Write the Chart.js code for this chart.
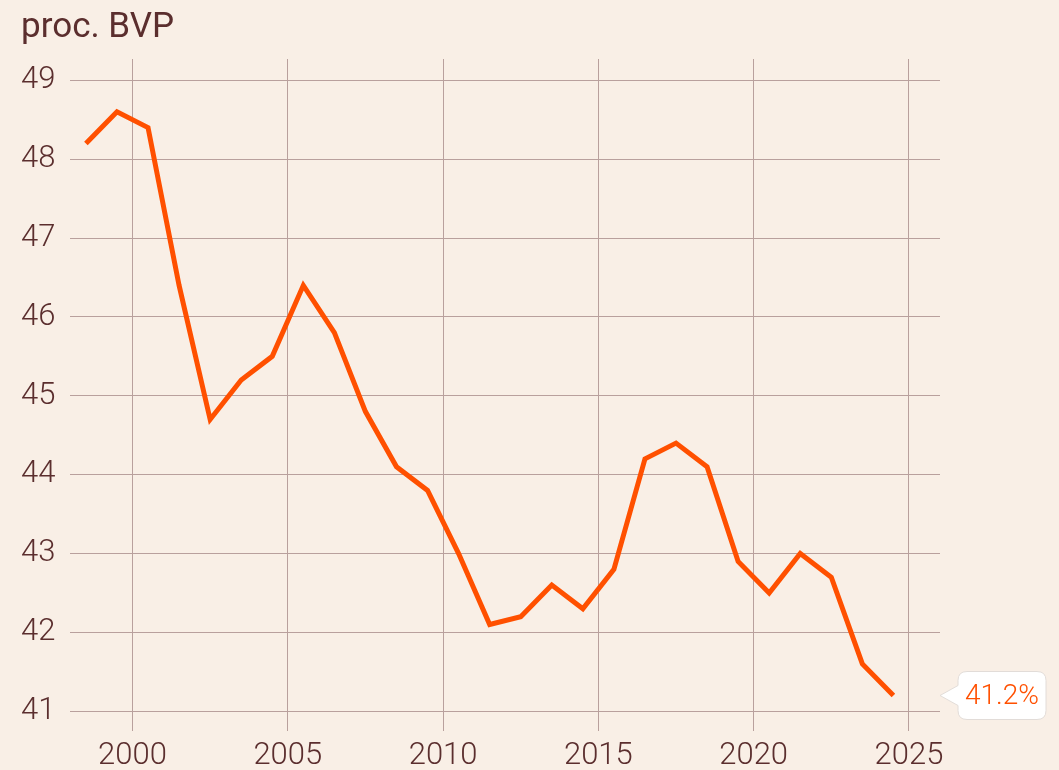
<!DOCTYPE html>
<html>
<head>
<meta charset="utf-8">
<script src="https://cdn.jsdelivr.net/npm/chart.js@4"></script>
<style>
  html, body { margin: 0; padding: 0; background: #f9efe6; }
  #wrap { width: 1059px; height: 770px; }
</style>
</head>
<body>
<div id="wrap"><canvas id="chart"></canvas></div>
<script>
// mid-year points
let years = [1998.5, 1999.5, 2000.5, 2001.5, 2002.5, 2003.5, 2004.5, 2005.5, 2006.5,
    2007.5, 2008.5, 2009.5, 2010.5, 2011.5, 2012.5, 2013.5, 2014.5, 2015.5, 2016.5,
    2017.5, 2018.5, 2019.5, 2020.5, 2021.5, 2022.5, 2023.5, 2024.5];
let values = [48.2, 48.6, 48.4, 46.4, 44.7, 45.2, 45.5, 46.4, 45.8,
    44.8, 44.1, 43.8, 43.0, 42.1, 42.2, 42.6, 42.3, 42.8, 44.2,
    44.4, 44.1, 42.9, 42.5, 43.0, 42.7, 41.6, 41.2];
let xTicks = [2000, 2005, 2010, 2015, 2020, 2025];
let yTicks = [41, 42, 43, 44, 45, 46, 47, 48, 49];
let unitLabel = "proc. BVP";

const textColor = "#5b2e2e";
const gridColor = "#b9a09d";
const lineColor = "#ff5000";

// unit label top left + last value callout on the right
const extras = {
    id: "extras",
    afterDraw(chart) {
        let ctx = chart.ctx;
        ctx.save();
        ctx.fillStyle = textColor;
        ctx.font = "400 35px Roboto";
        ctx.textAlign = "left";
        ctx.textBaseline = "alphabetic";
        ctx.fillText(unitLabel, 21, 37);

        let meta = chart.getDatasetMeta(0);
        let pt = meta.data[meta.data.length - 1];
        let y = pt.y;
        let tipX = chart.chartArea.right;
        let bx = tipX + 18, bw = 88, bh = 48, r = 9;
        let by = y - bh / 2;
        ctx.beginPath();
        ctx.moveTo(bx + r, by);
        ctx.lineTo(bx + bw - r, by);
        ctx.quadraticCurveTo(bx + bw, by, bx + bw, by + r);
        ctx.lineTo(bx + bw, by + bh - r);
        ctx.quadraticCurveTo(bx + bw, by + bh, bx + bw - r, by + bh);
        ctx.lineTo(bx + r, by + bh);
        ctx.quadraticCurveTo(bx, by + bh, bx, by + bh - r);
        ctx.lineTo(bx, y + 10);
        ctx.lineTo(tipX, y);
        ctx.lineTo(bx, y - 10);
        ctx.lineTo(bx, by + r);
        ctx.quadraticCurveTo(bx, by, bx + r, by);
        ctx.closePath();
        ctx.fillStyle = "#ffffff";
        ctx.fill();
        ctx.strokeStyle = "#e2dcd8";
        ctx.lineWidth = 1;
        ctx.stroke();
        ctx.fillStyle = lineColor;
        ctx.font = "300 28px Roboto";
        ctx.textAlign = "center";
        ctx.textBaseline = "middle";
        ctx.fillText(values[values.length - 1].toFixed(1) + "%", bx + bw / 2, y + 1);
        ctx.restore();
    }
};

let points = years.map((x, i) => ({ x: x, y: values[i] }));

new Chart(document.getElementById("chart"), {
    type: "line",
    data: {
        datasets: [{
            data: points,
            borderColor: lineColor,
            borderWidth: 5,
            pointRadius: 0,
            tension: 0,
            borderJoinStyle: "miter"
        }]
    },
    options: {
        responsive: true,
        maintainAspectRatio: false,
        animation: false,
        layout: { padding: { left: 6, right: 119, top: 59, bottom: 0 } },
        plugins: {
            legend: { display: false },
            tooltip: { enabled: false },
            title: { display: false }
        },
        scales: {
            x: {
                type: "linear",
                min: 1998,
                max: 2026,
                afterBuildTicks: (axis) => { axis.ticks = xTicks.map(v => ({ value: v })); },
                afterFit: (axis) => { axis.height = 39; },
                grid: { color: gridColor, lineWidth: 1, drawTicks: false },
                border: { display: false },
                ticks: {
                    color: textColor,
                    font: { family: "Roboto", size: 31, weight: "300", lineHeight: 1 },
                    padding: 10,
                    maxRotation: 0,
                    callback: (v) => String(v)
                }
            },
            y: {
                min: 40.75,
                max: 49.27,
                afterBuildTicks: (axis) => { axis.ticks = yTicks.map(v => ({ value: v })); },
                grid: { color: gridColor, lineWidth: 1, drawTicks: false },
                border: { display: false },
                ticks: {
                    color: textColor,
                    font: { family: "Roboto", size: 31, weight: "300" },
                    padding: 15,
                    callback: (v) => String(v)
                }
            }
        }
    },
    plugins: [extras]
});
</script>
</body>
</html>
